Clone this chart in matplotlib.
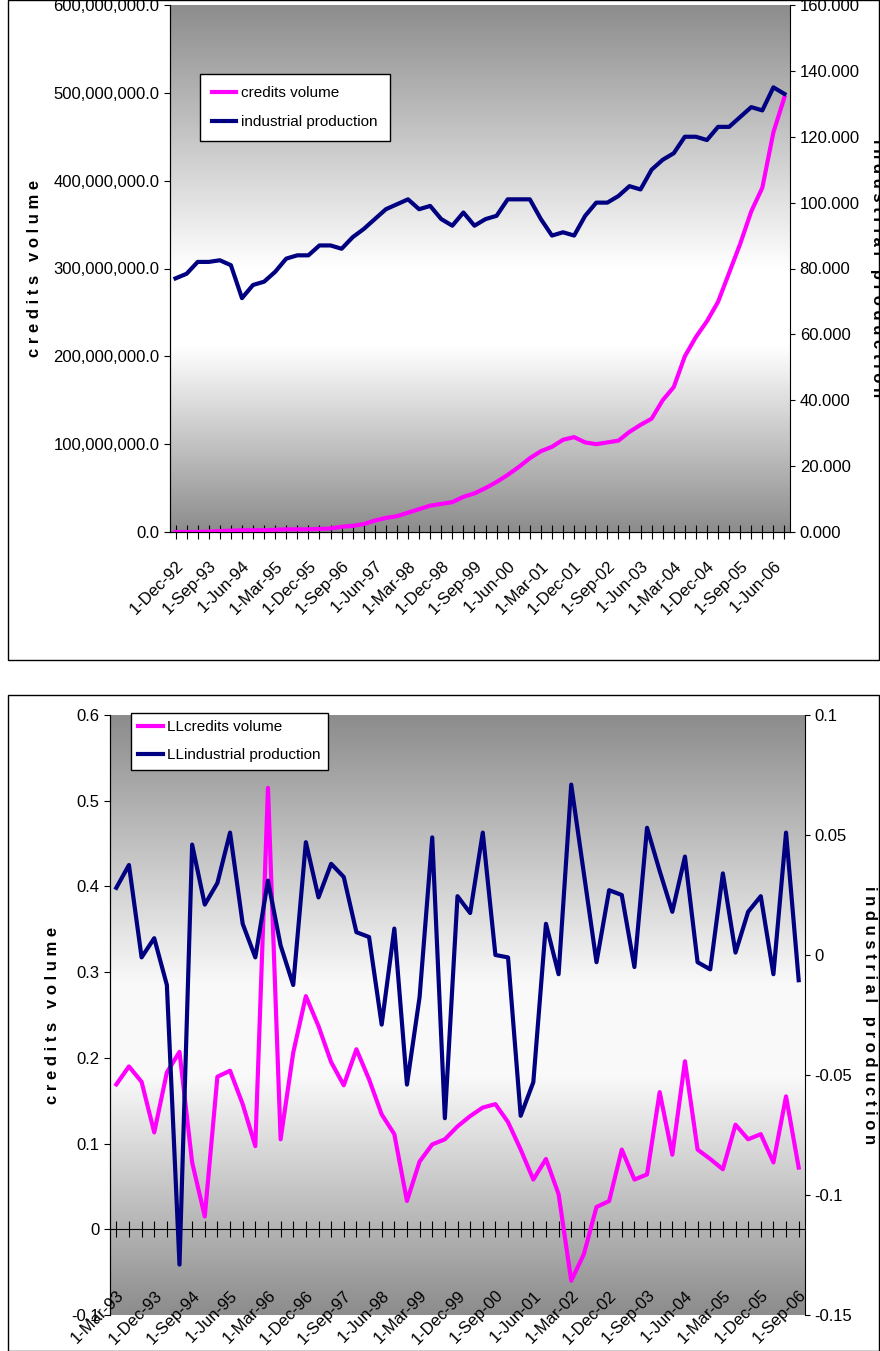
import numpy as np
import matplotlib
matplotlib.use('Agg')
import matplotlib.pyplot as plt
from matplotlib.patches import Rectangle

plt.rcParams['font.family'] = ['Liberation Sans Narrow', 'Liberation Sans', 'DejaVu Sans']

# top chart: levels, quarterly Dec-92 .. Sep-06
credits = [0, 0, 0, 0.5, 1, 1.5, 2, 2, 2, 2.5, 3, 3, 3,
           3.5, 4, 6, 7, 9, 13, 16, 18, 22, 26, 30, 32, 34, 40, 44, 50, 57, 65, 74,
           84, 92, 97, 105, 108, 102, 100, 102, 104, 114, 122, 129, 150, 165, 200,
           222, 240, 262, 295, 328, 365, 392, 455, 495]
credits = [c * 1e6 for c in credits]
industrial = [77, 78.4, 82, 82, 82.5, 81, 71, 75, 76, 79,
              83, 84, 84, 87, 87, 86, 89.5, 92, 95, 98,
              99.5, 101, 98, 99, 95, 93, 97, 93, 95, 96,
              101, 101, 101, 95, 90, 91, 90, 96, 100, 100,
              102, 105, 104, 110, 113, 115, 120, 120, 119, 123,
              123, 126, 129, 128, 135, 133]
top_labels = ['1-Dec-92', '1-Sep-93', '1-Jun-94', '1-Mar-95', '1-Dec-95', '1-Sep-96',
              '1-Jun-97', '1-Mar-98', '1-Dec-98', '1-Sep-99', '1-Jun-00', '1-Mar-01',
              '1-Dec-01', '1-Sep-02', '1-Jun-03', '1-Mar-04', '1-Dec-04', '1-Sep-05',
              '1-Jun-06']

# bottom chart: log differences, quarterly Mar-93 .. Sep-06
ll_credits = [0.169, 0.19, 0.172, 0.113, 0.183, 0.207, 0.078, 0.015, 0.178, 0.185,
              0.146, 0.097, 0.515, 0.105, 0.206, 0.272, 0.237, 0.195, 0.168, 0.21,
              0.175, 0.134, 0.111, 0.033, 0.079, 0.099, 0.105, 0.12, 0.132, 0.142,
              0.146, 0.125, 0.093, 0.058, 0.082, 0.041, -0.06, -0.029, 0.026, 0.033,
              0.093, 0.058, 0.064, 0.16, 0.087, 0.196, 0.093, 0.082, 0.07, 0.122,
              0.105, 0.111, 0.078, 0.155, 0.072]
ll_industrial = [0.028, 0.0375, -0.001, 0.007, -0.0125, -0.129, 0.046, 0.021, 0.03, 0.051,
                 0.013, -0.001, 0.031, 0.004, -0.0125, 0.047, 0.024, 0.038, 0.0325, 0.0095,
                 0.0075, -0.029, 0.011, -0.054, -0.0175, 0.049, -0.068, 0.0245, 0.0175, 0.051,
                 0, -0.001, -0.067, -0.053, 0.013, -0.008, 0.071, 0.034, -0.003, 0.027,
                 0.025, -0.005, 0.053, 0.035, 0.018, 0.041, -0.003, -0.006, 0.034, 0.001,
                 0.018, 0.0245, -0.008, 0.051, -0.0105]
bottom_labels = ['1-Mar-93', '1-Dec-93', '1-Sep-94', '1-Jun-95', '1-Mar-96', '1-Dec-96',
                 '1-Sep-97', '1-Jun-98', '1-Mar-99', '1-Dec-99', '1-Sep-00', '1-Jun-01',
                 '1-Mar-02', '1-Dec-02', '1-Sep-03', '1-Jun-04', '1-Mar-05', '1-Dec-05',
                 '1-Sep-06']

PINK = '#ff00ff'
NAVY = '#000080'
W, H = 880, 1351

fig = plt.figure(figsize=(W / 100, H / 100), dpi=100)


def fr(x0, y0, x1, y1):
    return [x0 / W, 1 - y1 / H, (x1 - x0) / W, (y1 - y0) / H]


def gradient(ax, stops):
    v = np.linspace(0, 1, 256)
    pos = [s[0] for s in stops]
    col = [s[1] for s in stops]
    g = np.repeat(np.interp(v, pos, col)[:, None], 2, axis=1)
    img = np.dstack([g, g, g])
    ax.imshow(img, extent=[0, 1, 0, 1], transform=ax.transAxes, aspect='auto', zorder=0)


# panel frames
fig.patches.append(Rectangle((8 / W, 1 - 660 / H), 871 / W, 660 / H, transform=fig.transFigure,
                             fill=False, ec='black', lw=1))
fig.patches.append(Rectangle((8 / W, 0), 871 / W, 656 / H, transform=fig.transFigure,
                             fill=False, ec='black', lw=1))

# ---- top chart
ax = fig.add_axes(fr(170, 5, 790, 532))
gradient(ax, [(0, 0.55), (0.5, 1.0), (0.65, 1.0), (1, 0.55)])
n = len(credits)
x = np.arange(n)
ax.plot(x, credits, color=PINK, lw=3, label='credits volume', zorder=3)
ax.set_xlim(-0.5, n - 0.5)
ax.set_ylim(0, 600e6)
ax.set_yticks(np.arange(0, 600e6 + 1, 100e6))
ax.set_yticklabels([f'{v:,.1f}' for v in np.arange(0, 600e6 + 1, 100e6)], fontsize=12)
ax.set_xticks(x)
ax.set_xticklabels([top_labels[i // 3] if i % 3 == 0 and i // 3 < len(top_labels) else ''
                    for i in x], rotation=45, ha='right', rotation_mode='anchor', fontsize=12)
ax.tick_params(axis='x', direction='inout', length=10, pad=14)
ax.tick_params(axis='y', direction='out', length=4)
ax.set_ylabel('c r e d i t s   v o l u m e', fontsize=12, fontweight='bold', labelpad=8)
for s in ['top', 'right']:
    ax.spines[s].set_visible(False)
ax2 = ax.twinx()
ax2.plot(x, industrial, color=NAVY, lw=3, label='industrial production', zorder=3)
ax2.set_ylim(0, 160)
ax2.set_yticks(np.arange(0, 161, 20))
ax2.set_yticklabels([f'{v:.3f}' for v in np.arange(0, 161, 20)], fontsize=12)
ax2.set_ylabel('i n d u s t r i a l   p r o d u c t i o n', fontsize=12, fontweight='bold',
               rotation=270, labelpad=18)
ax2.spines['top'].set_visible(False)
h1, l1 = ax.get_legend_handles_labels()
h2, l2 = ax2.get_legend_handles_labels()
ax2.legend(h1 + h2, l1 + l2, loc='upper left', bbox_to_anchor=((192 - 170) / 620, (532 - 66) / 527),
           fancybox=False, edgecolor='black', framealpha=1, fontsize=11, handlelength=1.6,
           handletextpad=0.3, labelspacing=1.0, borderpad=0.8)

# ---- bottom chart
bx = fig.add_axes(fr(110, 715, 805, 1315))
gradient(bx, [(0, 0.55), (0.45, 0.98), (0.6, 0.98), (1, 0.55)])
m = len(ll_credits)
xb = np.arange(m)
bx.plot(xb, ll_credits, color=PINK, lw=3, label='LLcredits volume', zorder=3)
bx.set_xlim(-0.5, m - 0.5)
bx.set_ylim(-0.1, 0.6)
bx.set_yticks(np.arange(-0.1, 0.61, 0.1))
bx.set_yticklabels(['-0.1', '0', '0.1', '0.2', '0.3', '0.4', '0.5', '0.6'], fontsize=12)
bx.spines['bottom'].set_position(('data', 0))
bx.set_xticks(xb)
bx.set_xticklabels([bottom_labels[i // 3] if i % 3 == 0 and i // 3 < len(bottom_labels) else ''
                    for i in xb], rotation=45, ha='right', rotation_mode='anchor', fontsize=12)
bx.tick_params(axis='x', direction='inout', length=12, pad=36)
bx.tick_params(axis='y', direction='out', length=4)
bx.set_ylabel('c r e d i t s   v o l u m e', fontsize=12, fontweight='bold', labelpad=8)
for s in ['top', 'right']:
    bx.spines[s].set_visible(False)
bx2 = bx.twinx()
bx2.plot(xb, ll_industrial, color=NAVY, lw=3, label='LLindustrial production', zorder=3)
bx2.set_ylim(-0.15, 0.1)
bx2.set_yticks(np.arange(-0.15, 0.11, 0.05))
bx2.set_yticklabels(['-0.15', '-0.1', '-0.05', '0', '0.05', '0.1'], fontsize=12)
bx2.set_ylabel('i n d u s t r i a l   p r o d u c t i o n', fontsize=12, fontweight='bold',
               rotation=270, labelpad=18)
bx2.spines['top'].set_visible(False)
bx2.spines['bottom'].set_visible(False)
h1, l1 = bx.get_legend_handles_labels()
h2, l2 = bx2.get_legend_handles_labels()
bx2.legend(h1 + h2, l1 + l2, loc='upper left', bbox_to_anchor=((123 - 110) / 695, (1315 - 705) / 600),
           fancybox=False, edgecolor='black', framealpha=1, fontsize=11, handlelength=1.6,
           handletextpad=0.3, labelspacing=0.9, borderpad=0.5)

fig.savefig('out.png', dpi=100)
